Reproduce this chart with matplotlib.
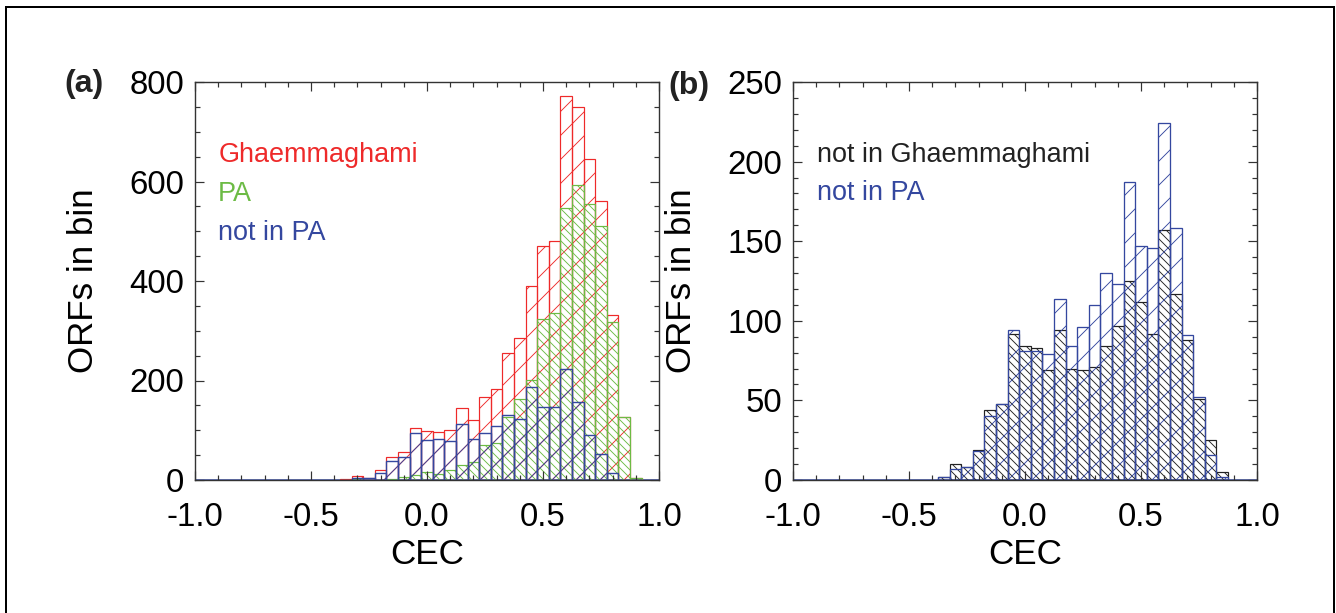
import matplotlib
matplotlib.use("Agg")
import matplotlib.pyplot as plt
from matplotlib.patches import Rectangle
from matplotlib.ticker import MultipleLocator

# === Data ===
# bin centres, bin width 0.05
cec_a = [-0.35, -0.30, -0.25, -0.20, -0.15, -0.10, -0.05, 0.00, 0.05, 0.10,
         0.15, 0.20, 0.25, 0.30, 0.35, 0.40, 0.45, 0.50, 0.55, 0.60,
         0.65, 0.70, 0.75, 0.80, 0.85, 0.90]
ghaem = [2, 8, 5, 20, 47, 56, 105, 98, 97, 100, 144, 121, 166, 183, 255, 286,
         390, 471, 481, 772, 749, 645, 561, 332, 127, 4]
pa = [0, 3, 0, 0, 3, 7, 10, 17, 13, 21, 30, 36, 70, 74, 127, 162,
      202, 324, 335, 546, 592, 554, 511, 317, 126, 4]
not_pa_a = [1, 5, 5, 14, 39, 47, 94, 81, 82, 79, 113, 83, 95, 108, 131, 123,
            186, 146, 146, 224, 157, 90, 52, 14, 1, 0]

cec_b = [-0.35, -0.30, -0.25, -0.20, -0.15, -0.10, -0.05, 0.00, 0.05, 0.10,
         0.15, 0.20, 0.25, 0.30, 0.35, 0.40, 0.45, 0.50, 0.55, 0.60,
         0.65, 0.70, 0.75, 0.80, 0.85]
not_ghaem = [2, 10, 8, 19, 44, 48, 92, 84, 83, 69, 94, 70, 69, 71, 84, 97,
             125, 112, 92, 157, 117, 88, 51, 25, 5]
not_pa_b = [2, 7, 8, 18, 40, 48, 94, 81, 81, 79, 114, 84, 96, 110, 130, 123,
            187, 147, 146, 224, 158, 91, 52, 16, 2]

bin_w = 0.05

RED = "#ee2a2a"
GREEN = "#6cbb45"
BLUE = "#34479f"
BLACK = "#222222"

# === Style ===
plt.rcParams["font.family"] = ["Liberation Sans", "DejaVu Sans"]
plt.rcParams["axes.unicode_minus"] = False
plt.rcParams["hatch.linewidth"] = 0.9

# dpi 72 so 1 pt == 1 px and hatch spacing comes out near the reference
fig = plt.figure(figsize=(1336 / 72, 613 / 72), dpi=72)

W, H = 1336, 613
ax_a = fig.add_axes([195 / W, (H - 480) / H, 464 / W, 398 / H])
ax_b = fig.add_axes([793 / W, (H - 480) / H, 464 / W, 398 / H])


def style_axis(ax, ymax, ymajor, yminor):
    ax.set_xlim(-1.0, 1.0)
    ax.set_ylim(0, ymax)
    ax.xaxis.set_major_locator(MultipleLocator(0.5))
    ax.xaxis.set_minor_locator(MultipleLocator(0.1))
    ax.yaxis.set_major_locator(MultipleLocator(ymajor))
    ax.yaxis.set_minor_locator(MultipleLocator(yminor))
    ax.xaxis.set_major_formatter(plt.FuncFormatter(lambda v, p: f"{v:.1f}"))
    ax.tick_params(which="both", direction="in", top=True, right=True,
                   color="#333333", width=1.2)
    ax.tick_params(which="major", length=9, labelsize=33)
    ax.tick_params(which="minor", length=5)
    ax.tick_params(axis="x", which="major", pad=22)
    ax.tick_params(axis="y", which="major", pad=11)
    for s in ax.spines.values():
        s.set_color("#333333")
        s.set_linewidth(1.4)
    ax.set_xlabel("CEC", fontsize=35)
    ax.set_ylabel("ORFs in bin", fontsize=35)
    ax.xaxis.set_label_coords(0.5, -0.145)
    ax.yaxis.set_label_coords(-0.205, 0.5)


# === Panel (a) ===
ax_a.axhline(0, color=BLUE, lw=1.5, zorder=1)
ax_a.bar(cec_a, ghaem, width=bin_w, fill=False, edgecolor=RED, hatch="/", lw=1.2)
ax_a.bar(cec_a, pa, width=bin_w, fill=False, edgecolor=GREEN, hatch="\\\\\\", lw=1.2)
ax_a.bar(cec_a, not_pa_a, width=bin_w, fill=False, edgecolor=BLUE, hatch="/", lw=1.4)
style_axis(ax_a, 800, 200, 50)

ax_a.text(0.05, 0.799, "Ghaemmaghami", color=RED, fontsize=27,
          transform=ax_a.transAxes, va="baseline")
ax_a.text(0.05, 0.701, "PA", color=GREEN, fontsize=27,
          transform=ax_a.transAxes, va="baseline")
ax_a.text(0.05, 0.603, "not in PA", color=BLUE, fontsize=27,
          transform=ax_a.transAxes, va="baseline")

# === Panel (b) ===
ax_b.axhline(0, color=BLUE, lw=1.5, zorder=1)
ax_b.bar(cec_b, not_ghaem, width=bin_w, fill=False, edgecolor=BLACK,
         hatch="\\\\\\", lw=1.2)
ax_b.bar(cec_b, not_pa_b, width=bin_w, fill=False, edgecolor=BLUE, hatch="/", lw=1.3)
style_axis(ax_b, 250, 50, 10)

ax_b.text(0.052, 0.800, "not in Ghaemmaghami", color=BLACK, fontsize=27,
          transform=ax_b.transAxes, va="baseline")
ax_b.text(0.052, 0.703, "not in PA", color=BLUE, fontsize=27,
          transform=ax_b.transAxes, va="baseline")

# panel letters
fig.text(84 / W, 1 - 84 / H, "(a)", fontsize=32, fontweight="bold",
         ha="center", va="center", color=BLACK)
fig.text(689 / W, 1 - 86 / H, "(b)", fontsize=32, fontweight="bold",
         ha="center", va="center", color=BLACK)

# outer frame (runs off the bottom edge like the reference)
fig.patches.append(Rectangle((6 / W, -0.05), (1334 - 6) / W, 1.05 - 7 / H,
                             transform=fig.transFigure, fill=False,
                             edgecolor="black", lw=2))

fig.savefig("out.png", dpi=72)
